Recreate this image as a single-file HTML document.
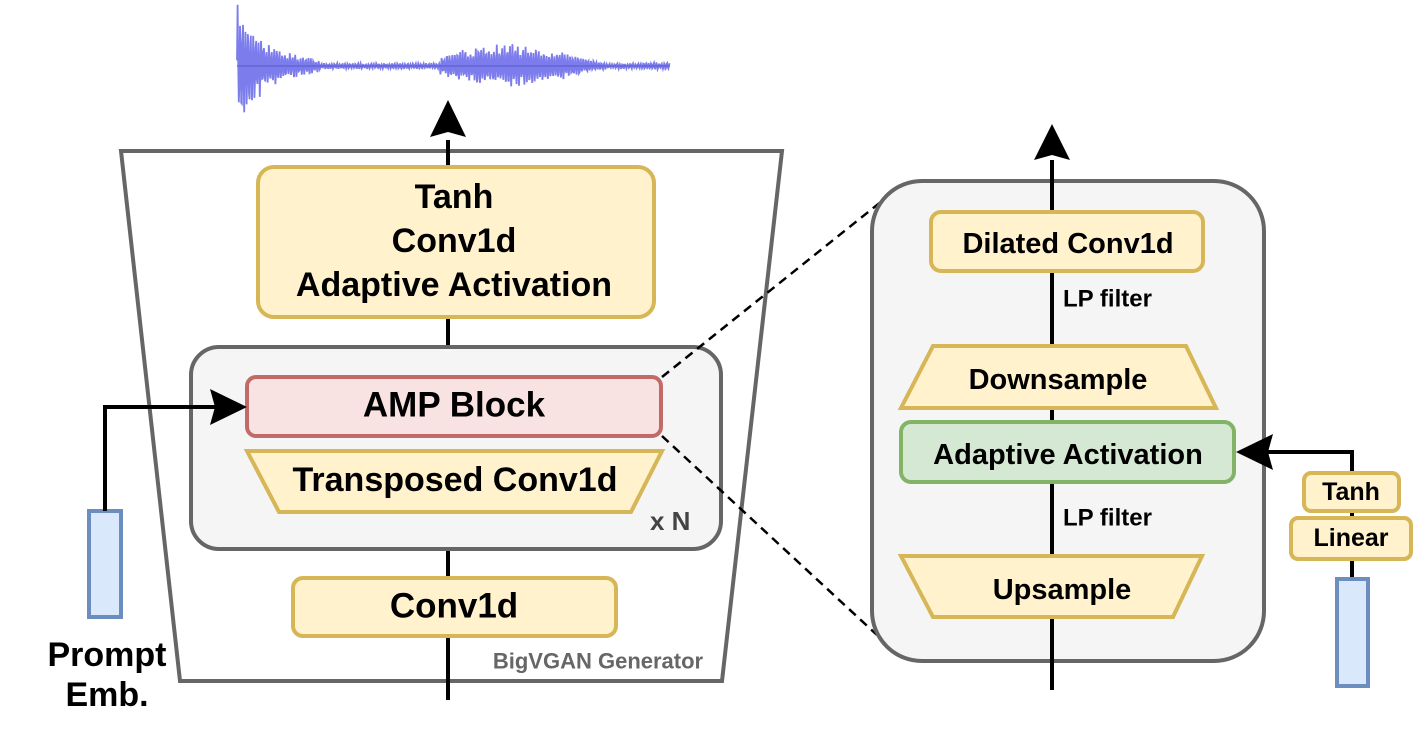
<!DOCTYPE html>
<html><head><meta charset="utf-8"><style>
html,body{margin:0;padding:0;background:#fff;}
svg{display:block;}
text{font-family:"Liberation Sans",Arial,sans-serif;font-weight:bold;dominant-baseline:central;}
</style></head><body>
<svg id="s" width="1413" height="741" viewBox="0 0 1413 741" xmlns="http://www.w3.org/2000/svg">
<g id="wave"></g>
<polygon points="121,151 782,151 722,681 180,681" fill="#fff" stroke="#666" stroke-width="4"/>
<line x1="448" y1="700" x2="448" y2="140" stroke="#000" stroke-width="4"/>
<polygon points="448,100 430,137 448,132 466,137" fill="#000"/>
<rect x="258" y="167" width="396" height="150" rx="16" fill="#fff2cc" stroke="#d6b656" stroke-width="4"/>
<text x="454" y="197" font-size="34" text-anchor="middle">Tanh</text>
<text x="454" y="241" font-size="34" text-anchor="middle">Conv1d</text>
<text x="454" y="285" font-size="34" text-anchor="middle">Adaptive Activation</text>
<rect x="191" y="347" width="530" height="202" rx="28" fill="#f5f5f5" stroke="#666" stroke-width="4"/>
<rect x="247" y="377" width="414" height="59" rx="9" fill="#f8e3e2" stroke="#b85450" stroke-opacity="0.85" stroke-width="4"/>
<text x="454" y="405" font-size="35" text-anchor="middle">AMP Block</text>
<polygon points="247,451 662,451 631,512 279,512" fill="#fff2cc" stroke="#d6b656" stroke-width="4"/>
<text x="455" y="480" font-size="34" text-anchor="middle">Transposed Conv1d</text>
<text x="650" y="521" font-size="26" fill="#444">x N</text>
<rect x="293" y="578" width="323" height="58" rx="10" fill="#fff2cc" stroke="#d6b656" stroke-width="4"/>
<text x="454" y="606" font-size="35" text-anchor="middle">Conv1d</text>
<text x="598" y="661" font-size="22" fill="#666" text-anchor="middle">BigVGAN Generator</text>
<rect x="89" y="511" width="32" height="106" fill="#dae8fc" stroke="#6c8ebf" stroke-width="4"/>
<polyline points="105,511 105,407 220,407" fill="none" stroke="#000" stroke-width="4"/>
<polygon points="247,407 210,389 215,407 210,425" fill="#000"/>
<text x="107" y="655" font-size="34" text-anchor="middle">Prompt</text>
<text x="107" y="695" font-size="34" text-anchor="middle">Emb.</text>
<line x1="662" y1="377" x2="892" y2="193" stroke="#000" stroke-width="2.5" stroke-dasharray="9,6"/>
<line x1="662" y1="436" x2="877" y2="635" stroke="#000" stroke-width="2.5" stroke-dasharray="9,6"/>
<rect x="872" y="181" width="392" height="480" rx="50" fill="#f5f5f5" stroke="#666" stroke-width="4"/>
<line x1="1052" y1="690" x2="1052" y2="160" stroke="#000" stroke-width="4"/>
<polygon points="1052,124 1034,160 1052,155 1070,160" fill="#000"/>
<rect x="931" y="212" width="272" height="59" rx="10" fill="#fff2cc" stroke="#d6b656" stroke-width="4"/>
<text x="1068" y="244" font-size="29" text-anchor="middle">Dilated Conv1d</text>
<text x="1063" y="299" font-size="24">LP filter</text>
<polygon points="933,346 1186,346 1216,408 901,408" fill="#fff2cc" stroke="#d6b656" stroke-width="4"/>
<text x="1058" y="380" font-size="29" text-anchor="middle">Downsample</text>
<rect x="901" y="422" width="333" height="60" rx="10" fill="#d5e8d4" stroke="#82b366" stroke-width="4"/>
<text x="1068" y="455" font-size="29" text-anchor="middle">Adaptive Activation</text>
<text x="1063" y="518" font-size="24">LP filter</text>
<polygon points="901,556 1202,556 1173,617 933,617" fill="#fff2cc" stroke="#d6b656" stroke-width="4"/>
<text x="1062" y="590" font-size="29" text-anchor="middle">Upsample</text>
<polyline points="1352,578 1352,452 1268,452" fill="none" stroke="#000" stroke-width="4"/>
<polygon points="1236,452 1273,434 1268,452 1273,470" fill="#000"/>
<rect x="1304" y="473" width="95" height="38" rx="7" fill="#fff2cc" stroke="#d6b656" stroke-width="4"/>
<text x="1351" y="492" font-size="25" text-anchor="middle">Tanh</text>
<rect x="1291" y="518" width="120" height="41" rx="7" fill="#fff2cc" stroke="#d6b656" stroke-width="4"/>
<text x="1351" y="538" font-size="25" text-anchor="middle">Linear</text>
<rect x="1337" y="579" width="31" height="107" fill="#dae8fc" stroke="#6c8ebf" stroke-width="4"/>
</svg>
<script>
(function(){
var g=document.getElementById('wave');var NS="http://www.w3.org/2000/svg";
var seed=7;function r(){seed=(seed*16807)%2147483647;return seed/2147483647;}
var pts=[];var cy=66;
for(var x=237;x<=670;x+=0.6){
 var a;
 if(x<320){a=62*Math.exp(-(x-237)/30)+3;}
 else if(x<440){a=3;}
 else if(x<640){var t=(x-440)/200;a=26*Math.sin(Math.PI*Math.min(1,t*1.1+0.08))*Math.exp(-t*0.8)+3;}
 else {a=4;}
 var y=cy+a*Math.sin(x*2.4)*(0.5+0.5*r());
 pts.push(x.toFixed(1)+","+y.toFixed(1));
}
var l=document.createElementNS(NS,'line');l.setAttribute('x1',237);l.setAttribute('x2',670);l.setAttribute('y1',cy);l.setAttribute('y2',cy);l.setAttribute('stroke','#888');l.setAttribute('stroke-width','1.5');g.appendChild(l);
var p=document.createElementNS(NS,'polyline');p.setAttribute('points',pts.join(' '));p.setAttribute('fill','none');p.setAttribute('stroke','#5b5be8');p.setAttribute('stroke-width','1.8');p.setAttribute('stroke-opacity','0.8');g.appendChild(p);
})();
</script>
</body></html>
